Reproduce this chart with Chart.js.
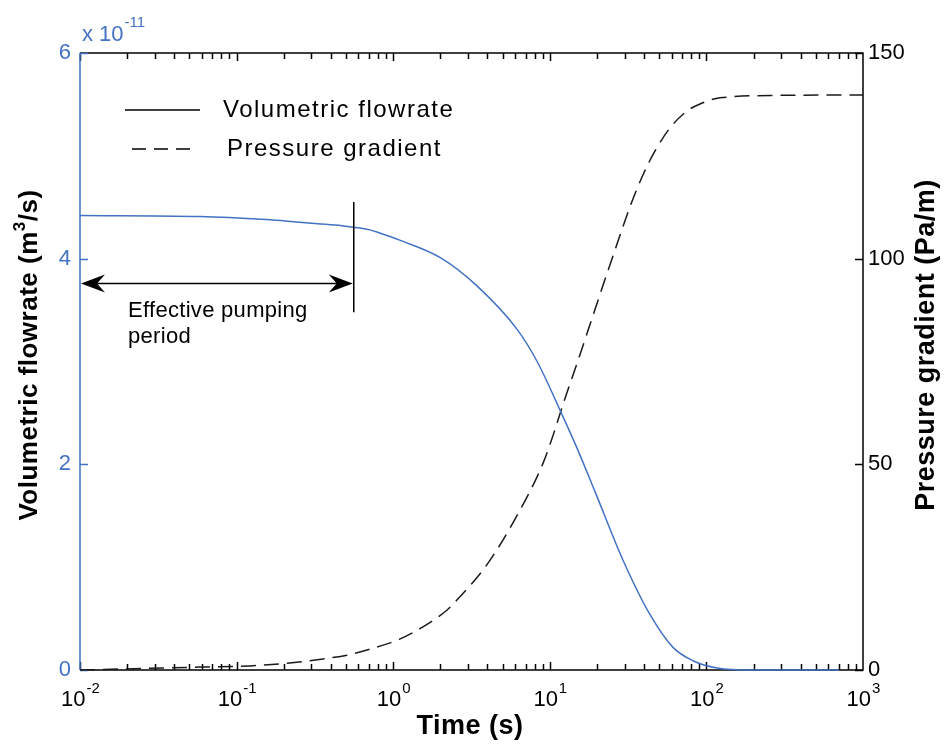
<!DOCTYPE html>
<html lang="en">
<head>
<meta charset="UTF-8">
<title>Volumetric flowrate and pressure gradient</title>
<script src="https://cdn.jsdelivr.net/npm/chart.js@4"></script>
<style>
  html, body { margin: 0; padding: 0; background: #fff; }
  #chart { display: block; }
</style>
</head>
<body>
<canvas id="chart" width="944" height="746"></canvas>
<script>
// values
// flowrate is in units of 1e-11 m3/s (the "x 10^-11" on the left axis)
const flowTime = [0.01, 0.058, 0.154, 0.23, 0.33, 0.47, 0.71, 0.82, 1.1, 2.0, 3.4, 6.2, 8.3, 11.6, 14.9, 19.5, 29.3, 43.6, 61.2, 82, 117, 200, 700];
const flowRate = [4.42, 4.41, 4.38, 4.36, 4.34, 4.32, 4.28, 4.25, 4.18, 4.01, 3.74, 3.31, 3.00, 2.53, 2.16, 1.73, 1.07, 0.54, 0.22, 0.09, 0.02, 0, 0];

const pressureTime = [0.01, 0.058, 0.122, 0.243, 0.356, 0.507, 0.743, 1.1, 1.55, 2.21, 2.55, 4.0, 6.0, 9.06, 10.5, 12.1, 15.4, 19.5, 21.9, 26.9, 32.5, 39.4, 47.0, 58.6, 75.2, 91.0, 122, 300, 1000];
const pressureGradient = [0, 0.7, 1.0, 1.9, 2.7, 3.6, 5.3, 7.5, 10.5, 14.6, 17.0, 25.8, 36.7, 50.3, 57.1, 64.4, 76.1, 87.8, 93.6, 103.6, 112.6, 120.4, 126.2, 131.8, 135.9, 137.6, 139.1, 139.7, 139.8];

const flowTicks = [0, 2, 4, 6];
const pressureTicks = [0, 50, 100, 150];
const timeDecades = [-2, -1, 0, 1, 2, 3];

// effective pumping period annotation (time in s, height in flowrate units)
const pumpingPeriod = [0.01, 0.56];
const pumpingArrowLevel = 3.76;
const pumpingMarker = [3.48, 4.55];

const seriesNames = ['Volumetric flowrate', 'Pressure gradient'];

const BLUE = '#4472c4';
const FONT = '"Liberation Sans", Arial, sans-serif';

function toPoints(xs, ys) {
    return xs.map(function (x, i) { return { x: x, y: ys[i] }; });
}

// draws the box and the inward MATLAB style tick marks
const axesBox = {
    id: 'axesBox',
    beforeDatasetsDraw(chart) {
        const ctx = chart.ctx;
        const a = chart.chartArea;
        const x = chart.scales.x;
        const yl = chart.scales.yFlow;
        const yr = chart.scales.yPres;
        ctx.save();
        ctx.lineWidth = 1.5;

        // x ticks, bottom and top
        ctx.strokeStyle = '#000';
        ctx.beginPath();
        for (let e = timeDecades[0]; e < timeDecades[timeDecades.length - 1]; e++) {
            for (let m = 1; m <= 9; m++) {
                const px = Math.round(x.getPixelForValue(m * Math.pow(10, e))) + 0.5;
                const len = m === 1 ? 8 : 6;
                ctx.moveTo(px, a.bottom); ctx.lineTo(px, a.bottom - len);
                ctx.moveTo(px, a.top); ctx.lineTo(px, a.top + len);
            }
        }
        ctx.stroke();

        // right ticks
        ctx.beginPath();
        pressureTicks.forEach(function (v) {
            const py = Math.round(yr.getPixelForValue(v)) + 0.5;
            ctx.moveTo(a.right, py); ctx.lineTo(a.right - 8, py);
        });
        ctx.stroke();

        // box: top, right, bottom in black
        ctx.beginPath();
        ctx.moveTo(a.left, a.top); ctx.lineTo(a.right, a.top);
        ctx.lineTo(a.right, a.bottom); ctx.lineTo(a.left, a.bottom);
        ctx.stroke();

        // left axis in blue
        ctx.strokeStyle = BLUE;
        ctx.beginPath();
        ctx.moveTo(a.left, a.top); ctx.lineTo(a.left, a.bottom);
        flowTicks.forEach(function (v) {
            const py = Math.round(yl.getPixelForValue(v)) + 0.5;
            ctx.moveTo(a.left, py); ctx.lineTo(a.left + 8, py);
        });
        ctx.stroke();
        ctx.restore();
    },
    afterDraw(chart) {
        const ctx = chart.ctx;
        const a = chart.chartArea;
        const x = chart.scales.x;
        const yl = chart.scales.yFlow;
        ctx.save();

        // x tick labels 10^n
        ctx.fillStyle = '#000';
        ctx.textBaseline = 'middle';
        ctx.textAlign = 'left';
        timeDecades.forEach(function (e) {
            const px = x.getPixelForValue(Math.pow(10, e));
            ctx.font = '22px ' + FONT;
            const wBase = ctx.measureText('10').width;
            ctx.font = '15px ' + FONT;
            const exp = String(e);
            const wExp = ctx.measureText(exp).width;
            const start = px - (wBase + wExp) / 2;
            ctx.font = '22px ' + FONT;
            ctx.fillText('10', start, a.bottom + 30);
            ctx.font = '15px ' + FONT;
            ctx.fillText(exp, start + wBase + 1, a.bottom + 19);
        });

        // exponent label of the left axis
        ctx.fillStyle = BLUE;
        ctx.font = '22px ' + FONT;
        ctx.fillText('x 10', a.left + 2, 35);
        const wx = ctx.measureText('x 10').width;
        ctx.font = '15px ' + FONT;
        ctx.fillText('-11', a.left + 3 + wx, 23);

        // axis titles
        ctx.fillStyle = '#000';
        ctx.font = 'bold 27px ' + FONT;
        ctx.textAlign = 'center';
        ctx.letterSpacing = '0.5px';
        ctx.fillText('Time (s)', 470, 727);

        // left title with superscript
        ctx.save();
        ctx.translate(30, 355);
        ctx.rotate(-Math.PI / 2);
        ctx.textAlign = 'left';
        const p1 = 'Volumetric flowrate (m', p2 = '3', p3 = '/s)';
        ctx.font = 'bold 26px ' + FONT;
        const w1 = ctx.measureText(p1).width, w3 = ctx.measureText(p3).width;
        ctx.font = 'bold 17px ' + FONT;
        const w2 = ctx.measureText(p2).width;
        let sx = -(w1 + w2 + w3) / 2;
        ctx.font = 'bold 26px ' + FONT;
        ctx.fillText(p1, sx, 0);
        ctx.font = 'bold 17px ' + FONT;
        ctx.fillText(p2, sx + w1, -10);
        ctx.font = 'bold 26px ' + FONT;
        ctx.fillText(p3, sx + w1 + w2, 0);
        ctx.restore();

        ctx.save();
        ctx.translate(927, 345);
        ctx.rotate(-Math.PI / 2);
        ctx.font = 'bold 27px ' + FONT;
        ctx.textAlign = 'center';
        ctx.fillText('Pressure gradient (Pa/m)', 0, 0);
        ctx.restore();
        ctx.letterSpacing = '0px';

        // legend
        ctx.strokeStyle = '#000';
        ctx.lineWidth = 1.5;
        ctx.beginPath();
        ctx.moveTo(125, 110); ctx.lineTo(200, 110);
        ctx.stroke();
        ctx.setLineDash([14, 8]);
        ctx.beginPath();
        ctx.moveTo(132, 149); ctx.lineTo(192, 149);
        ctx.stroke();
        ctx.setLineDash([]);
        ctx.font = '24px ' + FONT;
        ctx.textAlign = 'left';
        ctx.letterSpacing = '1.5px';
        ctx.fillText(seriesNames[0], 223, 110);
        ctx.fillText(seriesNames[1], 227, 149);
        ctx.letterSpacing = '0px';

        // effective pumping period
        const xs = x.getPixelForValue(pumpingPeriod[0]);
        const xe = x.getPixelForValue(pumpingPeriod[1]);
        const ya = Math.round(yl.getPixelForValue(pumpingArrowLevel)) + 0.5;
        ctx.lineWidth = 1.5;
        ctx.beginPath();
        ctx.moveTo(xe, yl.getPixelForValue(pumpingMarker[1]));
        ctx.lineTo(xe, yl.getPixelForValue(pumpingMarker[0]));
        ctx.moveTo(xs + 10, ya); ctx.lineTo(xe - 10, ya);
        ctx.stroke();
        arrowHead(ctx, xs + 1, ya, -1);
        arrowHead(ctx, xe - 1, ya, 1);
        ctx.font = '22px ' + FONT;
        ctx.letterSpacing = '0.3px';
        ctx.fillText('Effective pumping', xs + 48, ya + 27);
        ctx.fillText('period', xs + 48, ya + 53);
        ctx.letterSpacing = '0px';

        ctx.restore();
    }
};

function arrowHead(ctx, tipX, y, dir) {
    const len = 24, half = 9, notch = 8;
    ctx.beginPath();
    ctx.moveTo(tipX, y);
    ctx.lineTo(tipX - dir * len, y - half);
    ctx.lineTo(tipX - dir * (len - notch), y);
    ctx.lineTo(tipX - dir * len, y + half);
    ctx.closePath();
    ctx.fillStyle = '#000';
    ctx.fill();
}

new Chart(document.getElementById('chart'), {
    type: 'line',
    data: {
        datasets: [{
            label: seriesNames[0],
            data: toPoints(flowTime, flowRate),
            yAxisID: 'yFlow',
            borderColor: BLUE,
            borderWidth: 1.5,
            pointRadius: 0,
            cubicInterpolationMode: 'monotone',
            clip: 3
        }, {
            label: seriesNames[1],
            data: toPoints(pressureTime, pressureGradient),
            yAxisID: 'yPres',
            borderColor: '#1a1a1a',
            borderWidth: 1.5,
            borderDash: [15, 8],
            pointRadius: 0,
            cubicInterpolationMode: 'monotone',
            clip: 3
        }]
    },
    options: {
        responsive: false,
        devicePixelRatio: 1,
        animation: false,
        layout: { padding: { top: 53, left: 0, right: 0, bottom: 0 } },
        plugins: { legend: { display: false }, tooltip: { enabled: false } },
        scales: {
            x: {
                type: 'logarithmic',
                min: 0.01,
                max: 1000,
                grid: { display: false },
                border: { display: false },
                ticks: { display: false },
                afterFit: function (s) { s.height = 76; }
            },
            yFlow: {
                position: 'left',
                min: 0,
                max: 6,
                grid: { display: false, drawTicks: false },
                border: { display: false },
                ticks: {
                    stepSize: 2,
                    color: BLUE,
                    padding: 9,
                    font: { family: FONT, size: 22 }
                },
                afterBuildTicks: function (s) { s.ticks = flowTicks.map(function (v) { return { value: v }; }); },
                afterFit: function (s) { s.width = 80; }
            },
            yPres: {
                position: 'right',
                min: 0,
                max: 150,
                grid: { display: false, drawTicks: false },
                border: { display: false },
                ticks: {
                    stepSize: 50,
                    color: '#000',
                    padding: 5,
                    font: { family: FONT, size: 22 }
                },
                afterBuildTicks: function (s) { s.ticks = pressureTicks.map(function (v) { return { value: v }; }); },
                afterFit: function (s) { s.width = 81; }
            }
        }
    },
    plugins: [axesBox]
});
</script>
</body>
</html>
